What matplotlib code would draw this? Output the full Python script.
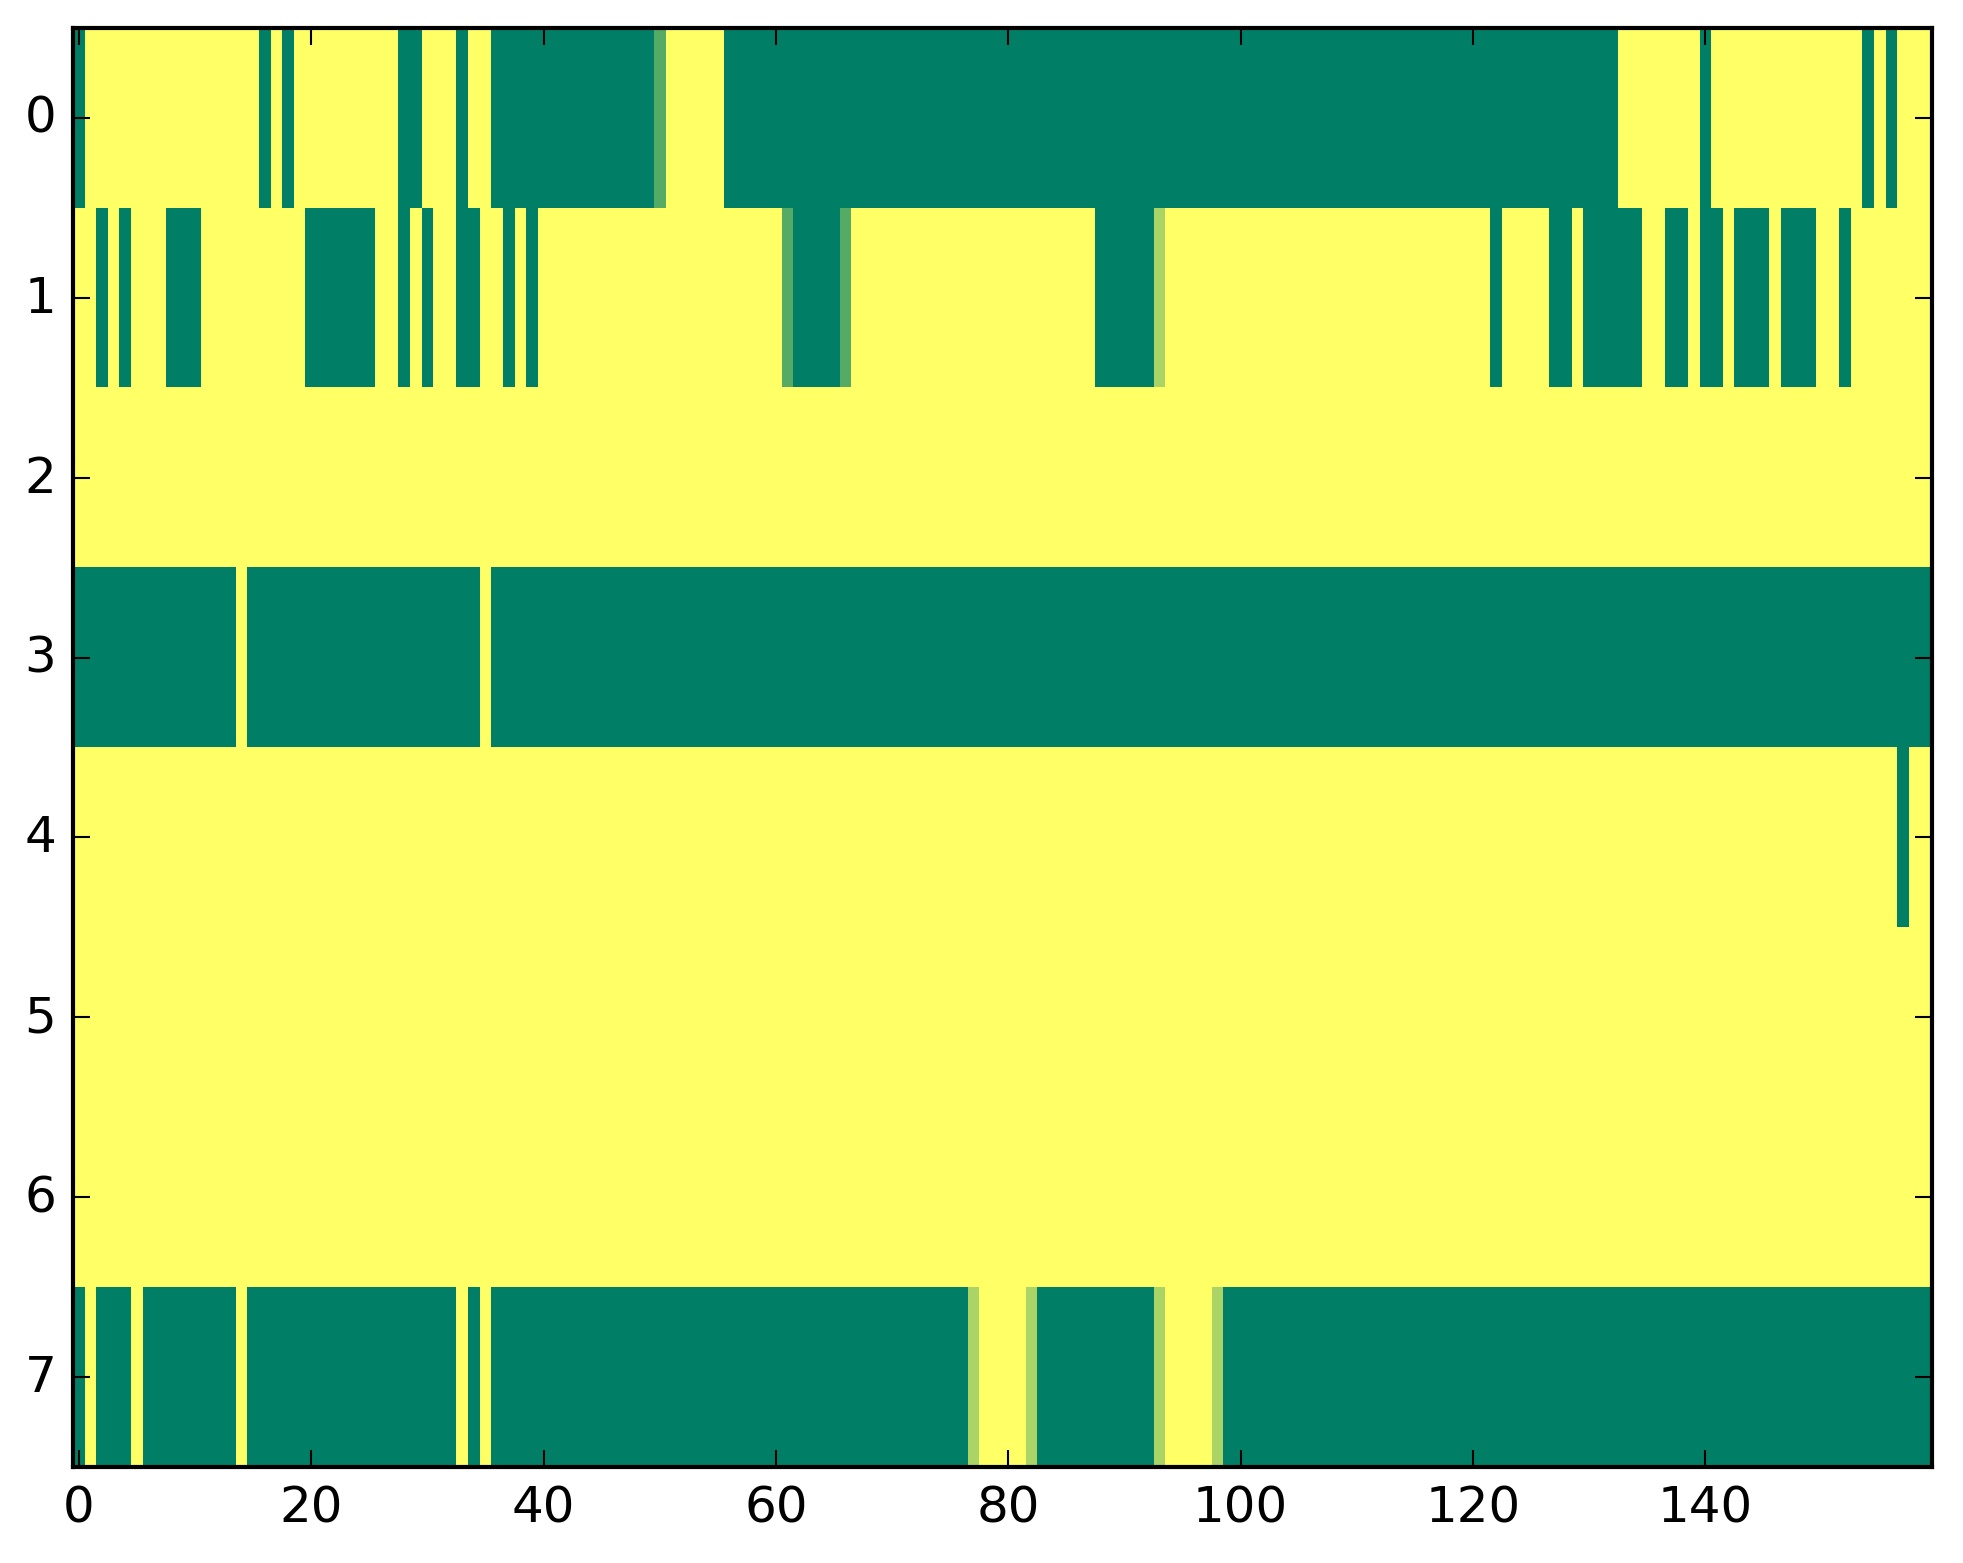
import matplotlib
matplotlib.use("Agg")
import matplotlib.pyplot as plt
import numpy as np

# each row as runs of (value, length); 0 = green, 1 = yellow in 'summer'
L, H = 1/3., 2/3.
row0 = [(0,1),(1,15),(0,1),(1,1),(0,1),(1,9),(0,2),(1,3),(0,1),(1,2),(0,14),(L,1),
        (1,5),(0,77),(1,7),(0,1),(1,13),(0,1),(1,1),(0,1),(1,3)]
row1 = [(1,2),(0,1),(1,1),(0,1),(1,3),(0,3),(1,9),(0,6),(1,2),(0,1),(1,1),(0,1),(1,2),
        (0,2),(1,2),(0,1),(1,1),(0,1),(1,21),(L,1),(0,4),(L,1),(1,21),(0,5),(H,1),
        (1,28),(0,1),(1,4),(0,2),(1,1),(0,5),(1,2),(0,2),(1,1),(0,2),(1,1),(0,3),(1,1),
        (0,3),(1,2),(0,1),(1,7)]
row2 = [(1,160)]
row3 = [(0,14),(1,1),(0,20),(1,1),(0,124)]
row4 = [(1,157),(0,1),(1,2)]
row5 = [(1,160)]
row6 = [(1,160)]
row7 = [(0,1),(1,1),(0,3),(1,1),(0,8),(1,1),(0,18),(1,1),(0,1),(1,1),(0,41),(H,1),
        (1,4),(H,1),(0,10),(H,1),(1,4),(H,1),(0,61)]

rows = [row0, row1, row2, row3, row4, row5, row6, row7]
data = np.array([[v for v, n in r for _ in range(n)] for r in rows])

plt.style.use('classic')
fig = plt.figure(figsize=(1963/300., 1564/300.), dpi=300)
ax = fig.add_axes([73/1963., 1-1468/1564., (1932-73)/1963., (1468-29)/1564.])
ax.imshow(data, cmap='summer', aspect='auto', interpolation='nearest', vmin=0, vmax=1)
ax.set_xticks(np.arange(0, 160, 20))
ax.set_yticks(np.arange(0, 8))
ax.set_xlim(-0.5, 159.5)
ax.set_ylim(7.5, -0.5)
fig.savefig('out.png', dpi=300)
